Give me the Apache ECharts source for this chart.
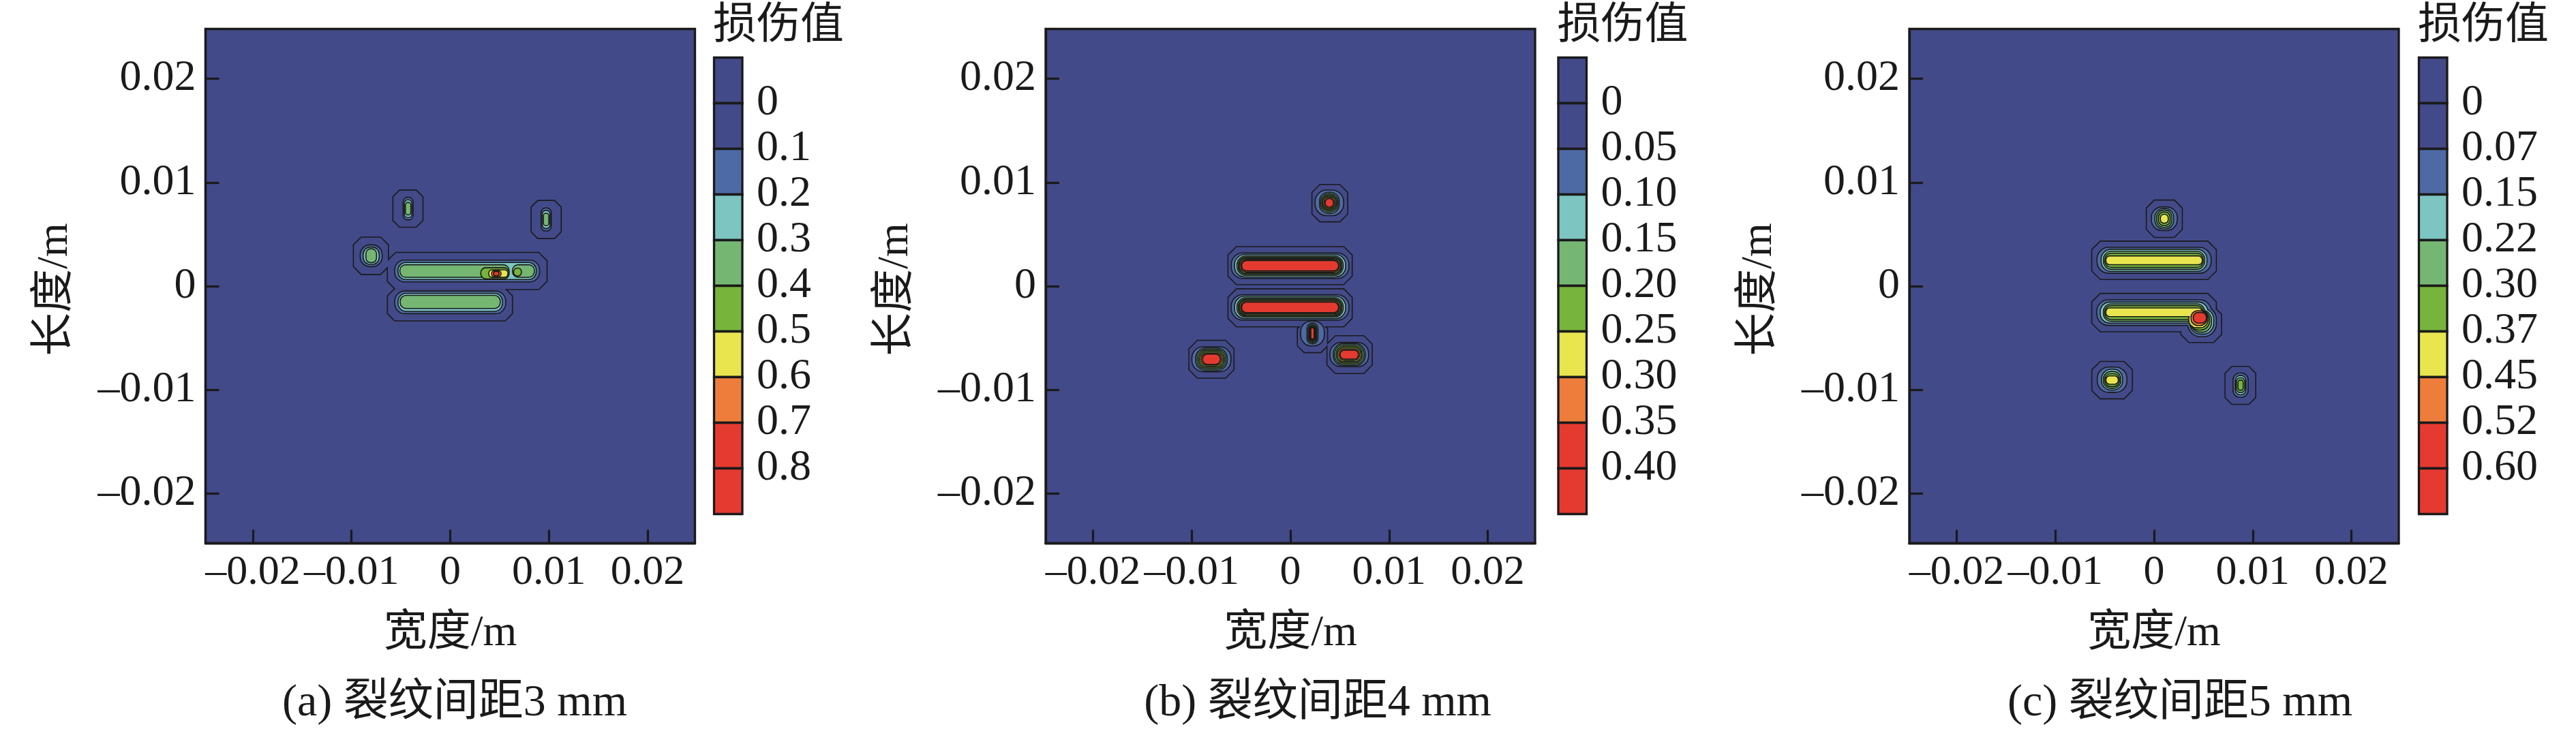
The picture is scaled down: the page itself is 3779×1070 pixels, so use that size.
<!DOCTYPE html>
<html>
<head>
<meta charset="utf-8">
<script src="https://cdn.jsdelivr.net/npm/echarts@6/dist/echarts.min.js"></script>
<style>
  html, body { margin: 0; padding: 0; background: #fff; }
  #main { width: 3779px; height: 1070px; }
</style>
</head>
<body>
<div id="main"></div>
<script>
  // tick values of both axes (m)
  const xTicks = [-0.02, -0.01, 0, 0.01, 0.02]
  const yTicks = [-0.02, -0.01, 0, 0.01, 0.02]
  const axisMin = -0.0248
  const axisMax = 0.0248

  // colour bar labels (contour levels) of each panel
  const levelLabelsA = ['0', '0.1', '0.2', '0.3', '0.4', '0.5', '0.6', '0.7', '0.8']
  const levelLabelsB = ['0', '0.05', '0.10', '0.15', '0.20', '0.25', '0.30', '0.35', '0.40']
  const levelLabelsC = ['0', '0.07', '0.15', '0.22', '0.30', '0.37', '0.45', '0.52', '0.60']
  const bandColors = ['#434a89', '#434a89', '#4e6aa5', '#7dc5c1', '#75b673', '#77b43b', '#e8e54f', '#ee7d3b', '#e53a30', '#e53a30']

  const captions = ['(a) 裂纹间距3 mm', '(b) 裂纹间距4 mm', '(c) 裂纹间距5 mm']
  const xName = '宽度/m'
  const yName = '长度/m'
  const barTitle = '损伤值'

  // damage regions: [centre x, centre y, half width, half height, lower damage level]
  const regionsA = [
    [-0.00429, 0.00748, 0.00147, 0.00174, 0],
    [0.00972, 0.00643, 0.00147, 0.00179, 0],
    [-0.00804, 0.00293, 0.00172, 0.00175, 0],
    [0.00172, 0.00146, 0.00804, 0.00174, 0],
    [-0.00003, -0.00179, 0.00628, 0.00151, 0],
    [-0.00427, 0.00747, 0.00045, 0.00104, 0.1],
    [0.00972, 0.00643, 0.00046, 0.00106, 0.1],
    [-0.00801, 0.00293, 0.00106, 0.00100, 0.1],
    [0.00171, 0.00146, 0.00729, 0.00100, 0.1],
    [0.00000, -0.00156, 0.00557, 0.00104, 0.1],
    [-0.00427, 0.00747, 0.00033, 0.00080, 0.2],
    [0.00972, 0.00643, 0.00034, 0.00082, 0.2],
    [-0.00801, 0.00293, 0.00075, 0.00079, 0.2],
    [0.00171, 0.00146, 0.00695, 0.00077, 0.2],
    [0.00000, -0.00156, 0.00523, 0.00082, 0.2],
    [-0.00427, 0.00747, 0.00022, 0.00055, 0.3],
    [0.00972, 0.00643, 0.00022, 0.00055, 0.3],
    [-0.00801, 0.00293, 0.00048, 0.00062, 0.3],
    [0.00043, 0.00146, 0.00548, 0.00055, 0.3],
    [0.00742, 0.00146, 0.00106, 0.00055, 0.3],
    [0.00000, -0.00152, 0.00502, 0.00058, 0.3],
    [0.00453, 0.00124, 0.00138, 0.00049, 0.4],
    [0.00682, 0.00136, 0.00034, 0.00033, 0.4],
    [0.00487, 0.00121, 0.00092, 0.00031, 0.5],
    [0.00467, 0.00121, 0.00042, 0.00024, 0.6],
    [0.00467, 0.00121, 0.00023, 0.00016, 0.7]
  ]

  const regionsB = [
    [0.00400, 0.00800, 0.00176, 0.00175, 0],
    [-0.00003, 0.00198, 0.00624, 0.00178, 0],
    [-0.00003, -0.00209, 0.00624, 0.00178, 0],
    [0.00224, -0.00494, 0.00148, 0.00142, 0],
    [0.00600, -0.00660, 0.00224, 0.00177, 0],
    [-0.00800, -0.00705, 0.00223, 0.00177, 0],
    [0.00395, 0.00803, 0.00139, 0.00118, 0.05],
    [-0.00003, 0.00197, 0.00591, 0.00118, 0.05],
    [-0.00003, -0.00205, 0.00591, 0.00118, 0.05],
    [0.00224, -0.00456, 0.00114, 0.00115, 0.05],
    [0.00597, -0.00660, 0.00190, 0.00112, 0.05],
    [-0.00800, -0.00705, 0.00193, 0.00115, 0.05],
    [0.00395, 0.00803, 0.00094, 0.00097, 0.10],
    [-0.00003, 0.00197, 0.00557, 0.00103, 0.10],
    [-0.00003, -0.00205, 0.00557, 0.00103, 0.10],
    [0.00224, -0.00456, 0.00050, 0.00095, 0.10],
    [0.00597, -0.00660, 0.00156, 0.00102, 0.10],
    [-0.00800, -0.00705, 0.00154, 0.00104, 0.10],
    [0.00395, 0.00803, 0.00083, 0.00083, 0.15],
    [-0.00003, 0.00197, 0.00533, 0.00088, 0.15],
    [-0.00003, -0.00205, 0.00533, 0.00088, 0.15],
    [0.00224, -0.00456, 0.00039, 0.00083, 0.15],
    [0.00597, -0.00660, 0.00143, 0.00090, 0.15],
    [-0.00800, -0.00705, 0.00140, 0.00091, 0.15],
    [0.00395, 0.00803, 0.00071, 0.00070, 0.20],
    [-0.00003, 0.00197, 0.00519, 0.00077, 0.20],
    [-0.00003, -0.00205, 0.00519, 0.00077, 0.20],
    [0.00224, -0.00456, 0.00030, 0.00072, 0.20],
    [0.00597, -0.00660, 0.00126, 0.00077, 0.20],
    [-0.00800, -0.00705, 0.00125, 0.00078, 0.20],
    [0.00395, 0.00803, 0.00060, 0.00059, 0.25],
    [-0.00003, 0.00197, 0.00508, 0.00066, 0.25],
    [-0.00003, -0.00205, 0.00508, 0.00066, 0.25],
    [0.00224, -0.00456, 0.00023, 0.00063, 0.25],
    [0.00597, -0.00660, 0.00113, 0.00063, 0.25],
    [-0.00800, -0.00705, 0.00112, 0.00064, 0.25],
    [0.00395, 0.00803, 0.00048, 0.00048, 0.30],
    [-0.00003, 0.00197, 0.00496, 0.00055, 0.30],
    [-0.00003, -0.00205, 0.00496, 0.00055, 0.30],
    [0.00224, -0.00456, 0.00017, 0.00057, 0.30],
    [0.00597, -0.00660, 0.00099, 0.00050, 0.30],
    [-0.00800, -0.00705, 0.00098, 0.00052, 0.30],
    [0.00395, 0.00803, 0.00037, 0.00036, 0.35],
    [-0.00003, 0.00197, 0.00485, 0.00045, 0.35],
    [-0.00003, -0.00205, 0.00485, 0.00045, 0.35],
    [0.00224, -0.00456, 0.00011, 0.00049, 0.35],
    [0.00597, -0.00660, 0.00087, 0.00038, 0.35],
    [-0.00800, -0.00705, 0.00084, 0.00044, 0.35]
  ]

  const regionsC = [
    [0.00104, 0.00650, 0.00177, 0.00175, 0],
    [0.00000, 0.00249, 0.00626, 0.00180, 0],
    [0.00000, -0.00255, 0.00626, 0.00180, 0],
    [0.00478, -0.00368, 0.00201, 0.00170, 0],
    [-0.00425, -0.00906, 0.00200, 0.00175, 0],
    [0.00875, -0.00957, 0.00150, 0.00178, 0],
    [0.00104, 0.00650, 0.00126, 0.00109, 0.07],
    [0.00000, 0.00249, 0.00573, 0.00120, 0.07],
    [0.00000, -0.00255, 0.00575, 0.00118, 0.07],
    [0.00486, -0.00341, 0.00140, 0.00142, 0.07],
    [-0.00425, -0.00902, 0.00145, 0.00117, 0.07],
    [0.00877, -0.00955, 0.00071, 0.00112, 0.07],
    [0.00104, 0.00650, 0.00089, 0.00093, 0.15],
    [0.00000, 0.00249, 0.00531, 0.00101, 0.15],
    [0.00000, -0.00255, 0.00540, 0.00096, 0.15],
    [0.00484, -0.00339, 0.00115, 0.00118, 0.15],
    [-0.00425, -0.00902, 0.00101, 0.00095, 0.15],
    [0.00877, -0.00955, 0.00048, 0.00088, 0.15],
    [0.00104, 0.00650, 0.00072, 0.00078, 0.22],
    [0.00000, 0.00249, 0.00508, 0.00082, 0.22],
    [0.00000, -0.00255, 0.00508, 0.00079, 0.22],
    [0.00478, -0.00339, 0.00098, 0.00100, 0.22],
    [-0.00425, -0.00904, 0.00083, 0.00077, 0.22],
    [0.00877, -0.00955, 0.00037, 0.00066, 0.22],
    [0.00104, 0.00650, 0.00054, 0.00060, 0.30],
    [0.00000, 0.00249, 0.00494, 0.00063, 0.30],
    [0.00000, -0.00255, 0.00494, 0.00062, 0.30],
    [0.00463, -0.00330, 0.00094, 0.00088, 0.30],
    [-0.00425, -0.00906, 0.00069, 0.00057, 0.30],
    [0.00877, -0.00955, 0.00021, 0.00044, 0.30],
    [0.00104, 0.00650, 0.00034, 0.00038, 0.37],
    [0.00000, 0.00249, 0.00483, 0.00037, 0.37],
    [0.00000, -0.00252, 0.00483, 0.00037, 0.37],
    [0.00449, -0.00319, 0.00092, 0.00077, 0.37],
    [-0.00425, -0.00906, 0.00057, 0.00035, 0.37],
    [0.00455, -0.00308, 0.00075, 0.00066, 0.45],
    [0.00464, -0.00305, 0.00061, 0.00046, 0.52]
  ]

  const serif = "'Liberation Serif', 'Noto Sans CJK SC'"
  const ink = '#1a1a1a'

  function levelNumbers(labels) {
    return labels.map(s => parseFloat(s))
  }

  function colorFor(levels, v) {
    let n = 0
    levels.forEach(l => { if (v >= l - 1e-9) n++ })
    return bandColors[n]
  }

  // each level: outlines first (thick stroke), then plain fills, so touching regions merge
  function drawOrder(regions) {
    const vals = []
    regions.forEach(r => { if (vals.indexOf(r[4]) < 0) vals.push(r[4]) })
    vals.sort((a, b) => a - b)
    const out = []
    vals.forEach(v => {
      const lv = regions.filter(r => r[4] === v)
      lv.forEach(r => out.push(r.concat(0)))
      lv.forEach(r => out.push(r.concat(1)))
    })
    return out
  }

  function tickText(v) {
    if (Math.abs(v) < 1e-12) return '0'
    return (v < 0 ? '\u2013' : '') + Math.abs(v).toFixed(2)
  }

  const panels = [
    { regions: regionsA, labels: levelLabelsA, plotLeft: 301.5, cbLeft: 1047.5, capX: 667 },
    { regions: regionsB, labels: levelLabelsB, plotLeft: 1534, cbLeft: 2286, capX: 1933 },
    { regions: regionsC, labels: levelLabelsC, plotLeft: 2801, cbLeft: 3548.5, capX: 3198 }
  ]
  const plotTop = 42.5, plotW = 718, plotH = 755
  const cbTop = 84.5, cbW = 41.5, cbH = 670

  const grid = [], xAxis = [], yAxis = [], series = [], graphic = []

  panels.forEach((p, k) => {
    const levels = levelNumbers(p.labels)
    const gi = grid.length
    grid.push({
      left: p.plotLeft, top: plotTop, width: plotW, height: plotH,
      show: true, backgroundColor: bandColors[1], borderColor: ink, borderWidth: 3.3
    })
    grid.push({ left: p.cbLeft, top: cbTop, width: cbW, height: cbH })

    xAxis.push({
      gridIndex: gi, type: 'value', min: axisMin, max: axisMax, position: 'bottom',
      axisLine: { show: true, onZero: false, lineStyle: { color: ink, width: 3.3 } },
      splitLine: { show: false },
      axisTick: { inside: true, length: 20, customValues: xTicks, lineStyle: { color: ink, width: 3.2 } },
      axisLabel: {
        customValues: xTicks, formatter: tickText, margin: 12, hideOverlap: false,
        showMinLabel: true, showMaxLabel: true,
        fontFamily: serif, fontSize: 62, color: ink
      }
    })
    yAxis.push({
      gridIndex: gi, type: 'value', min: axisMin, max: axisMax, position: 'left',
      axisLine: { show: true, onZero: false, lineStyle: { color: ink, width: 3.3 } },
      splitLine: { show: false },
      axisTick: { inside: true, length: 20, customValues: yTicks, lineStyle: { color: ink, width: 3.2 } },
      axisLabel: {
        customValues: yTicks, formatter: tickText, margin: 14, hideOverlap: false,
        showMinLabel: true, showMaxLabel: true,
        fontFamily: serif, fontSize: 64, color: ink
      }
    })
    // colour bar axes
    xAxis.push({ gridIndex: gi + 1, type: 'value', min: 0, max: 1, show: false })
    yAxis.push({
      gridIndex: gi + 1, type: 'value', min: 0, max: 10, inverse: true, position: 'right',
      axisLine: { show: false }, axisTick: { show: false }, splitLine: { show: false },
      axisLabel: {
        customValues: [1, 2, 3, 4, 5, 6, 7, 8, 9],
        formatter: v => p.labels[Math.round(v) - 1],
        margin: 21, fontFamily: serif, fontSize: 64, color: ink
      }
    })

    series.push({
      type: 'custom',
      xAxisIndex: gi, yAxisIndex: gi,
      clip: true,
      data: drawOrder(p.regions),
      encode: { x: 0, y: 1 },
      renderItem(params, api) {
        const cx = api.value(0), cy = api.value(1), hw = api.value(2), hh = api.value(3)
        const v = api.value(4), pass = api.value(5)
        const a = api.coord([cx - hw, cy + hh])
        const b = api.coord([cx + hw, cy - hh])
        const w = b[0] - a[0], h = b[1] - a[1]
        const style = {
          fill: colorFor(levels, v),
          stroke: pass === 0 ? ink : null,
          lineWidth: pass === 0 ? 3.2 : 0
        }
        if (v === 0) {
          const c = Math.min(w, h) * 0.22
          return {
            type: 'polygon', z2: params.dataIndex,
            shape: { points: [
              [a[0] + c, a[1]], [b[0] - c, a[1]], [b[0], a[1] + c], [b[0], b[1] - c],
              [b[0] - c, b[1]], [a[0] + c, b[1]], [a[0], b[1] - c], [a[0], a[1] + c]
            ] },
            style
          }
        }
        return {
          type: 'rect', z2: params.dataIndex,
          shape: { x: a[0], y: a[1], width: w, height: h, r: Math.min(w, h) / 2 * 0.9 },
          style
        }
      }
    })

    series.push({
      type: 'custom',
      xAxisIndex: gi + 1, yAxisIndex: gi + 1,
      data: bandColors.map((c, i) => [i]),
      renderItem(params, api) {
        const i = api.value(0)
        const a = api.coord([0, i])
        const b = api.coord([1, i + 1])
        return {
          type: 'rect',
          shape: { x: a[0], y: a[1], width: b[0] - a[0], height: b[1] - a[1] },
          style: { fill: bandColors[i], stroke: ink, lineWidth: 3.3 }
        }
      }
    })

    graphic.push({
      type: 'text', x: p.cbLeft - 1.5, y: 0,
      style: { text: barTitle, font: "64px 'Noto Sans CJK SC'", fill: ink, align: 'left', verticalAlign: 'top' }
    })
    graphic.push({
      type: 'text', x: p.plotLeft + plotW / 2, y: 930,
      style: { text: xName, font: '64px ' + serif, fill: ink, align: 'center', verticalAlign: 'middle' }
    })
    graphic.push({
      type: 'text', x: p.plotLeft - 220, y: 425, rotation: Math.PI / 2,
      style: { text: yName, font: '64px ' + serif, fill: ink, align: 'center', verticalAlign: 'middle' }
    })
    graphic.push({
      type: 'text', x: p.capX, y: 1033,
      style: { text: captions[k], font: '66px ' + serif, fill: ink, align: 'center', verticalAlign: 'middle' }
    })
  })

  const myChart = echarts.init(document.getElementById('main'))
  myChart.setOption({
    animation: false,
    backgroundColor: '#ffffff',
    grid, xAxis, yAxis, series, graphic
  })
</script>
</body>
</html>
